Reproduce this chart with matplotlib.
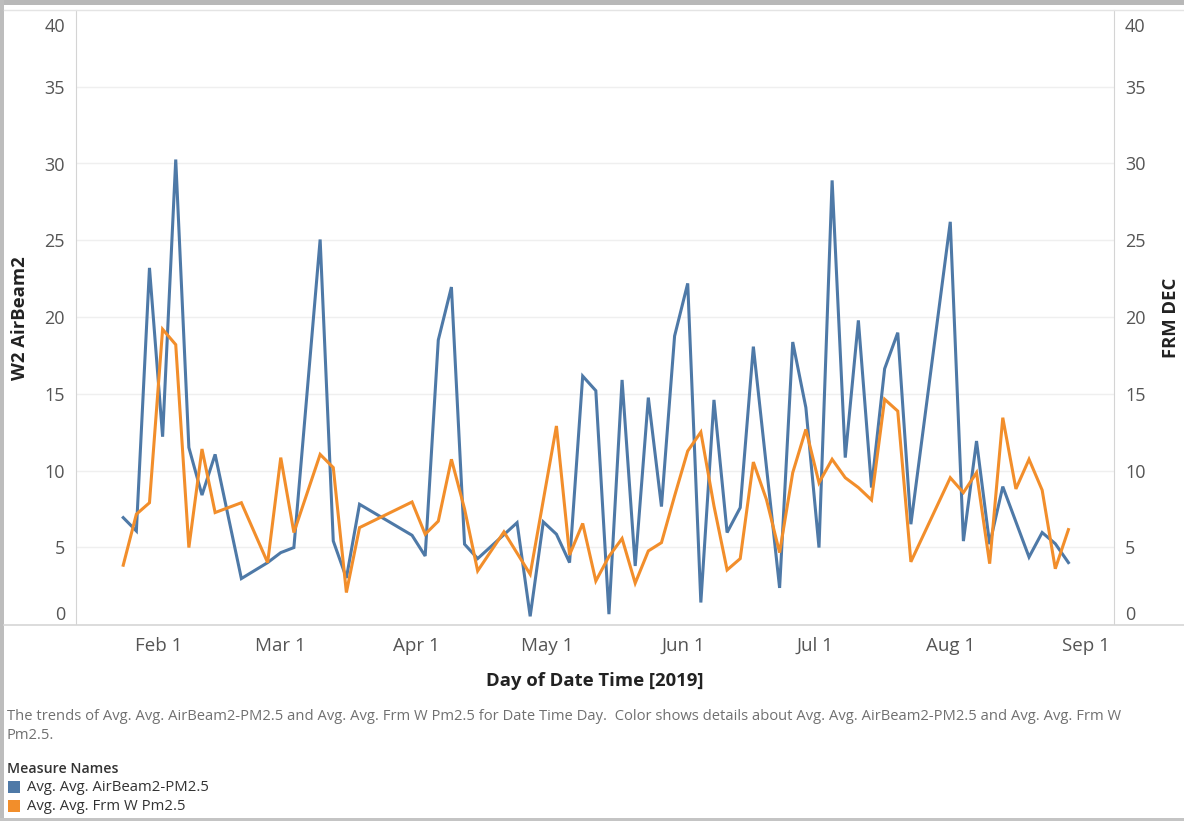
import datetime as dt
import matplotlib
matplotlib.use("Agg")
import matplotlib.pyplot as plt
from matplotlib.patches import Rectangle
from matplotlib.lines import Line2D
from matplotlib.transforms import ScaledTranslation

plt.rcParams['font.family'] = ['Open Sans', 'DejaVu Sans']

# Sampling days (1-in-3 day schedule, 2019) and daily averages; None = no reading
dates = [
    "2019-01-24", "2019-01-27", "2019-01-30", "2019-02-02", "2019-02-05", "2019-02-08",
    "2019-02-11", "2019-02-14", "2019-02-20", "2019-02-26", "2019-03-01", "2019-03-04",
    "2019-03-10", "2019-03-13", "2019-03-16", "2019-03-19", "2019-03-31", "2019-04-03",
    "2019-04-06", "2019-04-09", "2019-04-12", "2019-04-15", "2019-04-21", "2019-04-24",
    "2019-04-27", "2019-04-30", "2019-05-03", "2019-05-06", "2019-05-09", "2019-05-12",
    "2019-05-15", "2019-05-18", "2019-05-21", "2019-05-24", "2019-05-27", "2019-05-30",
    "2019-06-02", "2019-06-05", "2019-06-08", "2019-06-11", "2019-06-14", "2019-06-17",
    "2019-06-20", "2019-06-23", "2019-06-26", "2019-06-29", "2019-07-02", "2019-07-05",
    "2019-07-08", "2019-07-11", "2019-07-14", "2019-07-17", "2019-07-20", "2019-07-23",
    "2019-08-01", "2019-08-04", "2019-08-07", "2019-08-10", "2019-08-13", "2019-08-16",
    "2019-08-19", "2019-08-22", "2019-08-25", "2019-08-28",
]

airbeam_pm25 = [
    6.93, 6.06, 23.2, 12.2, 30.26, 11.5,
    8.4, 11.05, 2.96, 4.0, 4.65, 4.98,
    25.05, 5.41, 3.0, 7.8, 5.78, 4.43,
    18.5, 21.95, 5.2, 4.26, None, 6.6,
    0.5, 6.65, 5.85, 4.0, 16.15, 15.2,
    0.64, 15.9, 3.78, 14.75, 7.65, 18.76,
    22.19, 1.4, 14.6, 5.96, 7.58, 18.07,
    None, 2.35, 18.37, 14.1, 4.98, 28.9,
    10.84, 19.78, 8.89, 16.63, 18.98, 6.5,
    26.2, 5.4, 11.92, 5.2, 8.95, None,
    4.36, 5.96, 5.23, 4.0,
]

frm_pm25 = [
    3.83, 7.15, 7.9, 19.2, 18.2, 4.98,
    11.4, 7.26, 7.9, 4.0, 10.84, 5.96,
    11.05, 10.19, 2.05, 6.28, 7.95, 5.85,
    6.7, 10.73, 7.5, 3.46, 6.0, None,
    3.24, None, 12.9, 4.5, 6.55, 2.8,
    4.4, 5.57, 2.66, 4.76, 5.3, 8.34,
    11.27, 12.5, 7.69, 3.52, 4.26, 10.55,
    8.1, 4.65, 9.86, 12.68, 9.2, 10.73,
    9.53, 8.89, 8.08, 14.64, 13.87, 4.05,
    9.53, 8.56, 9.86, 3.93, 13.44, 8.8,
    10.73, 8.72, 3.6, 6.15,
]

y_ticks = [0, 5, 10, 15, 20, 25, 30, 35, 40]
x_tick_dates = ["2019-02-01", "2019-03-01", "2019-04-01", "2019-05-01",
                "2019-06-01", "2019-07-01", "2019-08-01", "2019-09-01"]
x_tick_labels = ["Feb 1", "Mar 1", "Apr 1", "May 1", "Jun 1", "Jul 1", "Aug 1", "Sep 1"]

series_names = ["Avg. Avg. AirBeam2-PM2.5", "Avg. Avg. Frm W Pm2.5"]
colors = ["#4E79A7", "#F28E2B"]

caption = ("The trends of Avg. Avg. AirBeam2-PM2.5 and Avg. Avg. Frm W Pm2.5 for Date Time Day.  "
           "Color shows details about Avg. Avg. AirBeam2-PM2.5 and Avg. Avg. Frm W\nPm2.5.")


def to_dt(s):
    return dt.datetime.strptime(s, "%Y-%m-%d")


def present(values):
    xs = [to_dt(d) for d, v in zip(dates, values) if v is not None]
    ys = [v for v in values if v is not None]
    return xs, ys


W, H = 1184, 821
fig = plt.figure(figsize=(W / 100, H / 100), dpi=100)
fig.patch.set_facecolor("white")

left, right, top, bottom = 76, 1114, 10, 624
ax = fig.add_axes([left / W, 1 - bottom / H, (right - left) / W, (bottom - top) / H])
ax2 = ax.twinx()

axis_color = "#d4d4d4"
grid_color = "#efefef"
tick_color = "#555555"

for a in (ax, ax2):
    a.set_ylim(0, 40)
    a.set_yticks(y_ticks)
    a.set_yticklabels([str(t) for t in y_ticks])
    a.tick_params(axis="y", length=0, labelsize=13, labelcolor=tick_color, pad=8)
    for s in a.spines.values():
        s.set_visible(False)
    a.patch.set_visible(False)

ax.spines["left"].set_visible(True)
ax.spines["left"].set_color(axis_color)
ax2.spines["right"].set_visible(True)
ax2.spines["right"].set_color(axis_color)

for t in y_ticks[1:-1]:
    ax.axhline(t, color=grid_color, lw=1, zorder=0)

ax.set_xlim(dt.datetime(2019, 1, 13, 5), dt.datetime(2019, 9, 7, 10))
ax.set_xticks([to_dt(d) for d in x_tick_dates])
ax.set_xticklabels(x_tick_labels)
ax.tick_params(axis="x", length=0, labelsize=13.5, labelcolor=tick_color, pad=9)

bx, by = present(airbeam_pm25)
ox, oy = present(frm_pm25)
ax.plot(bx, by, color=colors[0], lw=2.2, solid_joinstyle="miter", zorder=3)
ax2.plot(ox, oy, color=colors[1], lw=2.2, solid_joinstyle="miter", zorder=3)

# keep the end labels inside the pane
for a in (ax, ax2):
    labs = a.get_yticklabels()
    labs[0].set_verticalalignment("bottom")
    labs[-1].set_transform(labs[-1].get_transform()
                           + ScaledTranslation(0, -15 / 100, fig.dpi_scale_trans))

# pane borders spanning the full width
fig.add_artist(Line2D([4 / W, 1], [1 - bottom / H - 0.001, 1 - bottom / H - 0.001],
                      transform=fig.transFigure, color="#d6d6d6", lw=1.2))
fig.add_artist(Line2D([4 / W, 1], [1 - top / H, 1 - top / H],
                      transform=fig.transFigure, color="#e4e4e4", lw=1.0))

fig.text(20 / W, 1 - 318 / H, "W2 AirBeam2", rotation=90, ha="center", va="center",
         fontsize=13.3, fontweight="bold", color="#222222")
fig.text(1171 / W, 1 - 318 / H, "FRM DEC", rotation=90, ha="center", va="center",
         fontsize=13.3, fontweight="bold", color="#222222")
fig.text(595 / W, 1 - 681 / H, "Day of Date Time [2019]", ha="center", va="center",
         fontsize=13.3, fontweight="bold", color="#222222")

fig.text(7 / W, 1 - 709 / H, caption, ha="left", va="top", fontsize=10.6,
         color="#707070", linespacing=1.4)

fig.text(7 / W, 1 - 769 / H, "Measure Names", ha="left", va="center",
         fontsize=10.2, fontweight="semibold", color="#333333")
for i, (name, c) in enumerate(zip(series_names, colors)):
    yc = 787 + 19 * i
    fig.add_artist(Rectangle((8 / W, 1 - (yc + 6) / H), 12 / W, 12 / H,
                             transform=fig.transFigure, facecolor=c, edgecolor="none"))
    fig.text(27 / W, 1 - yc / H, name, ha="left", va="center", fontsize=10.7, color="#333333")

# outer frame of the dashboard
fig.add_artist(Rectangle((0, 1 - 5 / H), 1, 5 / H, transform=fig.transFigure,
                         facecolor="#b8b8b8", edgecolor="none"))
fig.add_artist(Rectangle((0, 0), 4 / W, 1, transform=fig.transFigure,
                         facecolor="#bdbdbd", edgecolor="none"))
fig.add_artist(Rectangle((0, 0), 1, 3 / H, transform=fig.transFigure,
                         facecolor="#c4c4c4", edgecolor="none"))

fig.savefig("out.png", dpi=100, facecolor="white")
